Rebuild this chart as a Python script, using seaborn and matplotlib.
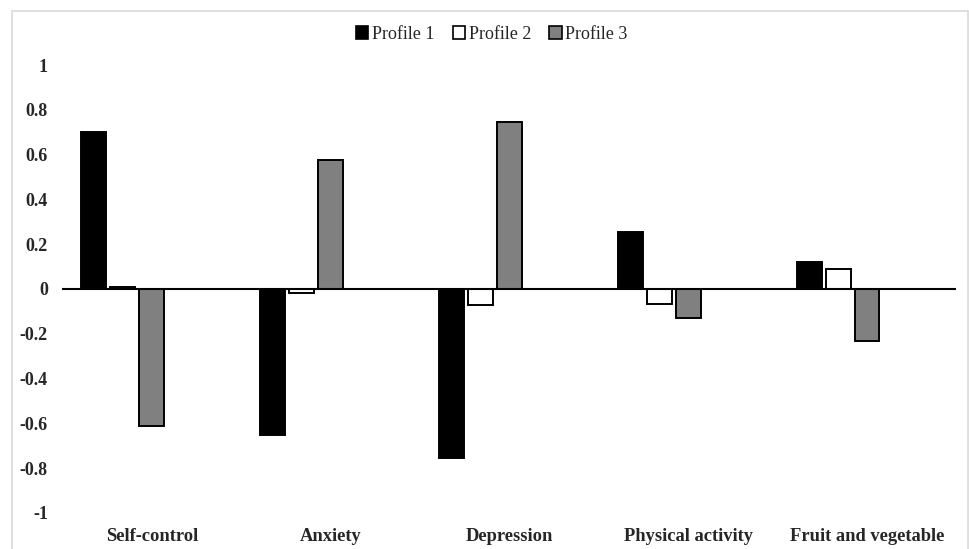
import matplotlib
matplotlib.use("Agg")
import numpy as np
import pandas as pd
import matplotlib.pyplot as plt
import seaborn as sns
from matplotlib.patches import Patch, Rectangle

# ── data ──────────────────────────────────────────────────────────────────────
categories = ["Self-control", "Anxiety", "Depression", "Physical activity", "Fruit and vegetable"]
profile_1 = [0.70, -0.65, -0.755, 0.255, 0.12]
profile_2 = [0.01, -0.02, -0.07, -0.067, 0.09]
profile_3 = [-0.61, 0.578, 0.745, -0.13, -0.232]
series_names = ["Profile 1", "Profile 2", "Profile 3"]
series_colors = ["#000000", "#ffffff", "#808080"]
y_ticks = [1, 0.8, 0.6, 0.4, 0.2, 0, -0.2, -0.4, -0.6, -0.8, -1]

df = pd.DataFrame({
    "category": categories * 3,
    "value": profile_1 + profile_2 + profile_3,
    "profile": np.repeat(series_names, len(categories)),
})

# two empty series keep the Excel-style slot layout (bars left of centre)
hue_order = series_names + ["_e1", "_e2"]
palette = dict(zip(hue_order, series_colors + ["#ffffff", "#ffffff"]))

sns.set_style("white")
plt.rcParams["font.family"] = ["Liberation Serif", "DejaVu Serif"]

fig = plt.figure(figsize=(9.7, 5.49), dpi=100)
ax = fig.add_axes([0.0644, 0.0656, 0.9216, 0.816])

sns.barplot(data=df, x="category", y="value", hue="profile", hue_order=hue_order,
            palette=palette, order=categories, width=0.81, gap=0.14,
            edgecolor="black", linewidth=1.4, errorbar=None, legend=False, ax=ax)

ax.axhline(0, color="black", linewidth=1.5, zorder=1)
ax.set_xlim(-0.5, len(categories) - 0.5)
ax.set_ylim(-1, 1)
ax.set_yticks(y_ticks)
ax.set_yticklabels([f"{t:g}" for t in y_ticks], fontsize=13, fontweight="bold")
ax.set_xticklabels(categories, fontsize=13.3, fontweight="bold")
ax.tick_params(axis="y", length=0, pad=10.5)
ax.tick_params(axis="x", length=0, pad=10.5)
ax.set_xlabel("")
ax.set_ylabel("")
for s in ax.spines.values():
    s.set_visible(False)

handles = [Patch(facecolor=c, edgecolor="black", linewidth=1.2) for c in series_colors]
fig.legend(handles, series_names, loc="center", bbox_to_anchor=(0.507, 0.938),
           ncol=3, frameon=False, fontsize=13, handlelength=0.7, handleheight=0.7,
           handletextpad=0.2, columnspacing=1.0)

# light chart-area border
fig.patches.append(Rectangle((12 / 970, -0.05), 956 / 970, 1 - 11 / 549 + 0.05,
                             transform=fig.transFigure, fill=False,
                             edgecolor="#d9d9d9", linewidth=1.2))

fig.savefig("out.png", dpi=100)
